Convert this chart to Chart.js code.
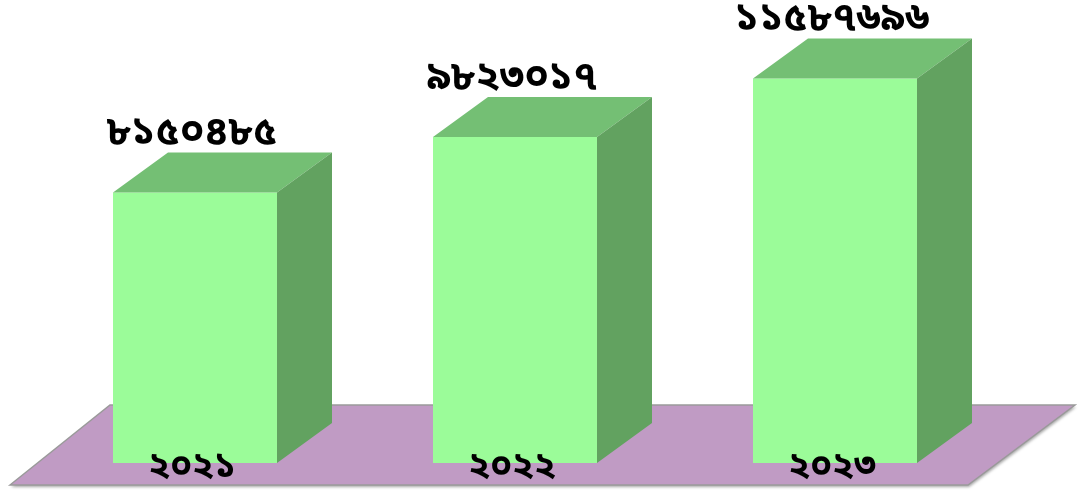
<!DOCTYPE html>
<html>
<head>
<meta charset="utf-8">
<script src="https://cdn.jsdelivr.net/npm/chart.js@4"></script>
<style>
html,body{margin:0;padding:0;background:#fff;}
#wrap{width:1080px;height:493px;position:relative;}
</style>
</head>
<body>
<div id="wrap"><canvas id="c" width="1080" height="493"></canvas></div>
<script>
const categories = ['২০২১', '২০২২', '২০২৩'];
const values = [8150485, 9823017, 11587696];
const valueLabels = ['৮১৫০৪৮৫', '৯৮২৩০১৭', '১১৫৮৭৬৯৬'];

const FONT = "'Noto Sans Bengali','Lohit Bengali','Vrinda','FreeSans','Noto Sans',sans-serif";
const DX = 55, DY = -40;

const floorPlugin = {
  id: 'floor',
  beforeDatasetsDraw(chart) {
    const ctx = chart.ctx, a = chart.chartArea;
    const yb = a.bottom + 22, yt = a.bottom - 58;
    ctx.save();
    ctx.shadowColor = 'rgba(0,0,0,0.35)';
    ctx.shadowBlur = 3;
    ctx.shadowOffsetX = 1; ctx.shadowOffsetY = 2;
    ctx.beginPath();
    ctx.moveTo(a.left - 25, yb);
    ctx.lineTo(a.left + 75, yt);
    ctx.lineTo(a.right + 80, yt);
    ctx.lineTo(a.right - 27, yb);
    ctx.closePath();
    ctx.fillStyle = '#C09BC4';
    ctx.fill();
    ctx.shadowColor = 'transparent';
    ctx.strokeStyle = '#9a9a9a';
    ctx.lineWidth = 1.5;
    ctx.stroke();
    ctx.restore();
  },
  afterDatasetsDraw(chart) {
    const ctx = chart.ctx;
    const meta = chart.getDatasetMeta(0);
    ctx.save();
    meta.data.forEach((bar, i) => {
      const l = bar.x - bar.width / 2, r = bar.x + bar.width / 2;
      const t = bar.y, b = bar.base;
      // top face
      ctx.beginPath();
      ctx.moveTo(l, t); ctx.lineTo(l + DX, t + DY); ctx.lineTo(r + DX, t + DY); ctx.lineTo(r, t);
      ctx.closePath();
      ctx.fillStyle = '#74BF74'; ctx.fill();
      // side face
      ctx.beginPath();
      ctx.moveTo(r, t); ctx.lineTo(r + DX, t + DY); ctx.lineTo(r + DX, b + DY); ctx.lineTo(r, b);
      ctx.closePath();
      ctx.fillStyle = '#62A260'; ctx.fill();
      ctx.fillStyle = '#000';
      ctx.textAlign = 'center';
      ctx.textBaseline = 'middle';
      // value label
      ctx.font = 'bold 40px ' + FONT;
      ctx.fillText(valueLabels[i], bar.x - 3, t + DY - 16);
      // category label
      ctx.font = 'bold 36px ' + FONT;
      ctx.fillText(categories[i], bar.x - 3, b + 7);
    });
    ctx.restore();
  }
};

new Chart(document.getElementById('c'), {
  type: 'bar',
  data: {
    labels: categories,
    datasets: [{
      data: values,
      backgroundColor: '#9BFC99',
      borderWidth: 0,
      categoryPercentage: 1,
      barPercentage: 0.5125,
      clip: false
    }]
  },
  options: {
    responsive: false,
    animation: false,
    layout: { padding: { left: 35, right: 85, top: 0, bottom: 30 } },
    plugins: { legend: { display: false }, tooltip: { enabled: false } },
    scales: {
      x: { display: false },
      y: { display: false, min: 0, max: 13950000 }
    }
  },
  plugins: [floorPlugin]
});
</script>
</body>
</html>
